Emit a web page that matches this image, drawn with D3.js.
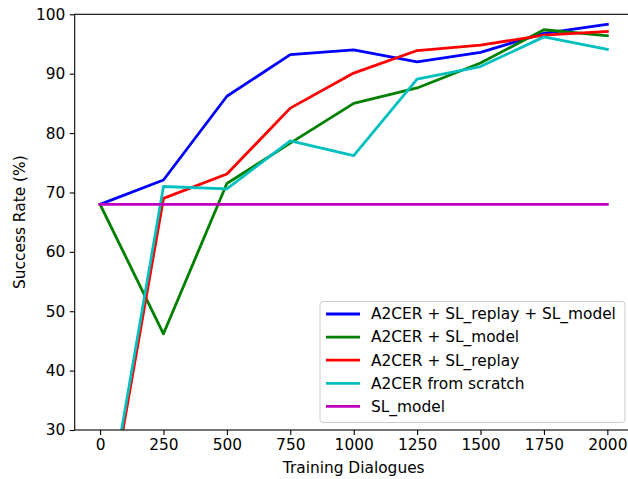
<!DOCTYPE html>
<html>
<head>
<meta charset="utf-8">
<script src="https://cdn.jsdelivr.net/npm/d3@7"></script>
<style>
  body { margin: 0; background: #fff; }
  text { font-family: "DejaVu Sans", sans-serif; fill: #000; }
</style>
</head>
<body>
<div class="chart"></div>
<script>
// Data
var dialogues = [0, 250, 500, 750, 1000, 1250, 1500, 1750, 2000];
var xTicks = [0, 250, 500, 750, 1000, 1250, 1500, 1750, 2000];
var yTicks = [30, 40, 50, 60, 70, 80, 90, 100];

var replayModel = [68, 72.1, 86.2, 93.2, 94.0, 92.0, 93.6, 96.8, 98.3];
var slModelRL   = [68, 46.2, 71.5, 78.3, 85.0, 87.6, 91.8, 97.4, 96.4];
var slReplay    = [8, 69.0, 73.1, 84.2, 90.1, 93.9, 94.8, 96.5, 97.1];
var scratch     = [9, 71.0, 70.6, 78.7, 76.2, 89.1, 91.2, 96.2, 94.1];
var slModel     = [68, 68, 68, 68, 68, 68, 68, 68, 68];

var seriesNames = ["A2CER + SL_replay + SL_model", "A2CER + SL_model", "A2CER + SL_replay", "A2CER from scratch", "SL_model"];
var seriesColors = ["#0000ff", "#008000", "#ff0000", "#00bfbf", "#bf00bf"];
var seriesValues = [replayModel, slModelRL, slReplay, scratch, slModel];

var svgWidth = 628;
var svgHeight = 479;
var fontSize = "15.4px";

// axes box (right spine falls just outside the window)
var margin = { top: 14.3, right: -4.7, bottom: 49, left: 74.7 };
var width = svgWidth - margin.left - margin.right;
var height = svgHeight - margin.top - margin.bottom;

var svg = d3.select(".chart")
  .append("svg")
  .attr("width", svgWidth)
  .attr("height", svgHeight);

var chartGroup = svg.append("g")
  .attr("transform", `translate(${margin.left}, ${margin.top})`);

var xScale = d3.scaleLinear().domain([-100, 2100]).range([0, width]);
var yScale = d3.scaleLinear().domain([30, 100]).range([height, 0]);

chartGroup.append("clipPath").attr("id", "clip")
  .append("rect").attr("width", width).attr("height", height);

// lines
var line = d3.line()
  .x((d, i) => xScale(dialogues[i]))
  .y(d => yScale(d));

var linesGroup = chartGroup.append("g").attr("clip-path", "url(#clip)");
seriesValues.forEach(function(vals, k) {
  linesGroup.append("path")
    .datum(vals)
    .attr("d", line)
    .attr("fill", "none")
    .attr("stroke", seriesColors[k])
    .attr("stroke-width", 2.8)
    .attr("stroke-linejoin", "round")
    .attr("stroke-linecap", "square");
});

// axes
var bottomAxis = d3.axisBottom(xScale).tickValues(xTicks).tickFormat(d3.format("d")).tickSize(4.9).tickPadding(4.2);
var leftAxis = d3.axisLeft(yScale).tickValues(yTicks).tickFormat(d3.format("d")).tickSize(4.9).tickPadding(4.5);

var xAxisG = chartGroup.append("g")
  .attr("transform", `translate(0, ${height})`)
  .call(bottomAxis);
var yAxisG = chartGroup.append("g").call(leftAxis);

[xAxisG, yAxisG].forEach(function(g) {
  g.attr("font-size", null).attr("font-family", null);
  g.select(".domain").remove();
  g.selectAll(".tick line").attr("stroke", "#000").attr("stroke-width", 1.1);
  g.selectAll(".tick text").style("font-size", fontSize).attr("fill", "#000");
});

// frame
chartGroup.append("rect")
  .attr("width", width).attr("height", height)
  .attr("fill", "none").attr("stroke", "#000").attr("stroke-width", 1.1);

// axis labels
chartGroup.append("text")
  .attr("x", width / 2)
  .attr("y", height + 43)
  .attr("text-anchor", "middle")
  .style("font-size", fontSize)
  .text("Training Dialogues");

chartGroup.append("text")
  .attr("transform", "rotate(-90)")
  .attr("x", -height / 2)
  .attr("y", -margin.left + 25)
  .attr("text-anchor", "middle")
  .style("font-size", fontSize)
  .text("Success Rate (%)");

// legend, lower right
var legend = svg.append("g").attr("transform", "translate(320, 301.5)");
legend.append("rect")
  .attr("width", 305).attr("height", 121)
  .attr("rx", 3)
  .attr("fill", "#fff").attr("fill-opacity", 0.8)
  .attr("stroke", "#cccccc").attr("stroke-width", 1);

var rows = legend.selectAll("g.row")
  .data(seriesNames)
  .enter()
  .append("g")
  .attr("class", "row")
  .attr("transform", (d, i) => `translate(0, ${12.5 + i * 23.1})`);

rows.append("line")
  .attr("x1", 6).attr("x2", 40)
  .attr("stroke", (d, i) => seriesColors[i])
  .attr("stroke-width", 2.8);

rows.append("text")
  .attr("x", 51)
  .attr("dy", "0.35em")
  .style("font-size", fontSize)
  .text(d => d);
</script>
</body>
</html>
